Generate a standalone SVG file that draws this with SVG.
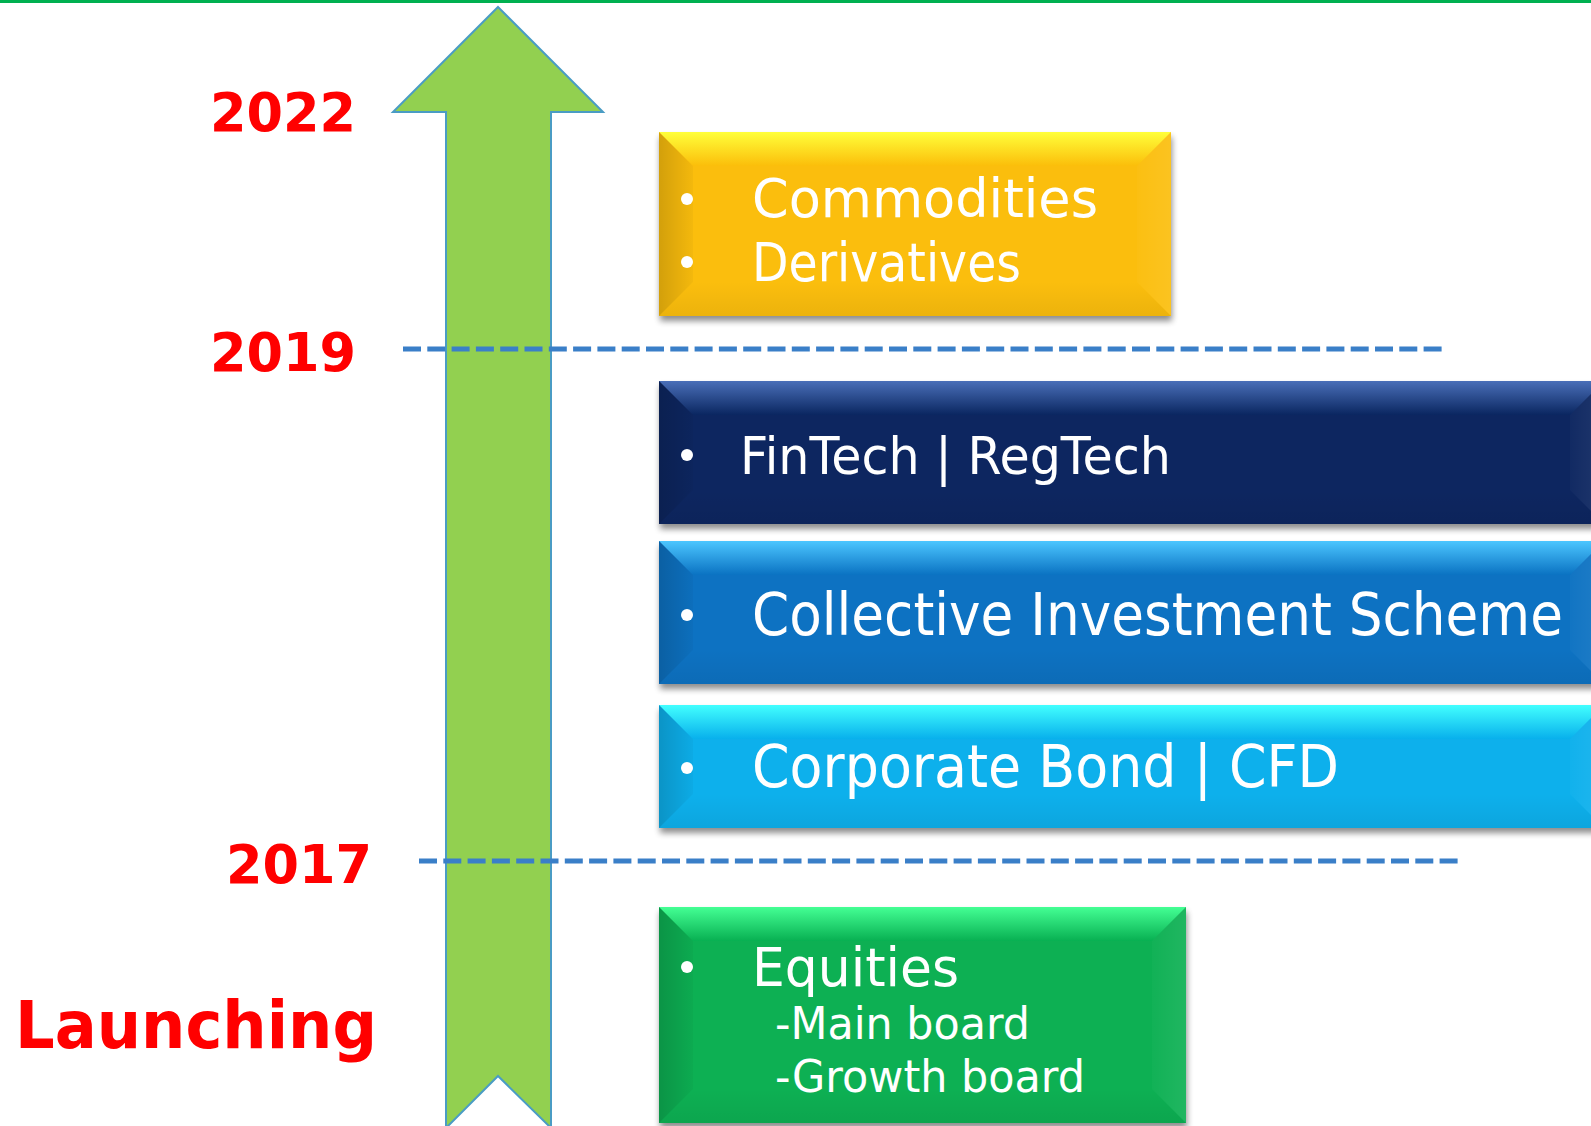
<svg xmlns="http://www.w3.org/2000/svg" width="1591" height="1126" viewBox="0 0 1591 1126">
  <defs>
    <style>
      .year { font-family: "DejaVu Sans", Verdana, sans-serif; font-weight: bold; fill: #ff0000; }
      .item { font-family: "DejaVu Sans", Verdana, sans-serif; fill: #ffffff; }
      .bullet { fill: #ffffff; }
      .sep { stroke: #3a7fc8; stroke-width: 5; stroke-dasharray: 18 6.3; fill: none; }
      .bevel-left { fill: url(#shadeLeft); }
      .bevel-right { fill: url(#shadeRight); }
      .bevel-bottom { fill: url(#shadeBottom); }
    </style>
    <filter id="drop" x="-5%" y="-10%" width="110%" height="130%">
      <feGaussianBlur in="SourceAlpha" stdDeviation="3"/>
      <feOffset dx="1" dy="5" result="b"/>
      <feComponentTransfer><feFuncA type="linear" slope="0.45"/></feComponentTransfer>
      <feMerge><feMergeNode/><feMergeNode in="SourceGraphic"/></feMerge>
    </filter>
    <!-- shared bevel shading -->
    <linearGradient id="shadeLeft" x1="0" y1="0" x2="1" y2="0">
      <stop offset="0" stop-color="#000" stop-opacity="0.16"/>
      <stop offset="1" stop-color="#000" stop-opacity="0.03"/>
    </linearGradient>
    <linearGradient id="shadeRight" x1="0" y1="0" x2="1" y2="0">
      <stop offset="0" stop-color="#fff" stop-opacity="0.02"/>
      <stop offset="1" stop-color="#fff" stop-opacity="0.08"/>
    </linearGradient>
    <linearGradient id="shadeBottom" x1="0" y1="0" x2="0" y2="1">
      <stop offset="0" stop-color="#000" stop-opacity="0"/>
      <stop offset="1" stop-color="#000" stop-opacity="0.06"/>
    </linearGradient>
    <!-- per-colour top highlights -->
    <linearGradient id="topYellow" x1="0" y1="0" x2="0" y2="1">
      <stop offset="0" stop-color="#ffff3a"/>
      <stop offset="1" stop-color="#fbbe0a"/>
    </linearGradient>
    <linearGradient id="topNavy" x1="0" y1="0" x2="0" y2="1">
      <stop offset="0" stop-color="#4a6fb8"/>
      <stop offset="1" stop-color="#0a2660"/>
    </linearGradient>
    <linearGradient id="topBlue" x1="0" y1="0" x2="0" y2="1">
      <stop offset="0" stop-color="#4cc6ff"/>
      <stop offset="1" stop-color="#0a72c2"/>
    </linearGradient>
    <linearGradient id="topCyan" x1="0" y1="0" x2="0" y2="1">
      <stop offset="0" stop-color="#42ffff"/>
      <stop offset="1" stop-color="#08b0ec"/>
    </linearGradient>
    <linearGradient id="topGreen" x1="0" y1="0" x2="0" y2="1">
      <stop offset="0" stop-color="#44ff94"/>
      <stop offset="1" stop-color="#08b052"/>
    </linearGradient>
  </defs>

  <rect width="1591" height="1126" fill="#ffffff"/>
  <!-- header rule -->
  <rect x="0" y="0" width="1591" height="3" fill="#00b050"/>

  <!-- timeline arrow -->
  <g id="timeline-arrow">
    <path d="M498,7 L603,112 L551,112 L551,1128 L498,1076 L446,1128 L446,112 L393,112 Z" fill="#92d050" stroke="#4a9cc4" stroke-width="2" stroke-linejoin="miter"/>
  </g>

  <!-- year labels -->
  <g id="labels">
    <text class="year" x="210" y="131" font-size="54" textLength="146" lengthAdjust="spacingAndGlyphs">2022</text>
    <text class="year" x="210" y="371" font-size="54" textLength="146" lengthAdjust="spacingAndGlyphs">2019</text>
    <text class="year" x="226" y="883" font-size="54" textLength="146" lengthAdjust="spacingAndGlyphs">2017</text>
    <text class="year" x="15" y="1048" font-size="65" textLength="362" lengthAdjust="spacingAndGlyphs">Launching</text>
  </g>

  <!-- period separators -->
  <g id="connectors">
    <line class="sep" x1="403" y1="349" x2="1443" y2="349"/>
    <line class="sep" x1="419" y1="861" x2="1459" y2="861"/>
  </g>

  <!-- 2019-2022 -->
  <g id="node-commodities">
    <rect x="659" y="132" width="512" height="184" fill="#fbbe0a" filter="url(#drop)"/>
    <polygon points="659,132 1171,132 1137,166 693,166" fill="url(#topYellow)"/>
    <polygon class="bevel-left" points="659,132 693,166 693,282 659,316"/>
    <polygon class="bevel-right" points="1171,132 1137,166 1137,282 1171,316"/>
    <polygon class="bevel-bottom" points="659,316 693,282 1137,282 1171,316"/>
    <circle class="bullet" cx="687" cy="199" r="6"/>
    <circle class="bullet" cx="687" cy="262" r="6"/>
    <text class="item" x="752" y="217" font-size="53" textLength="346" lengthAdjust="spacingAndGlyphs">Commodities</text>
    <text class="item" x="752" y="281" font-size="53" textLength="269" lengthAdjust="spacingAndGlyphs">Derivatives</text>
  </g>

  <!-- 2017-2019 -->
  <g id="node-fintech">
    <rect x="659" y="381" width="945" height="143" fill="#0a2660" filter="url(#drop)"/>
    <polygon points="659,381 1604,381 1570,415 693,415" fill="url(#topNavy)"/>
    <polygon class="bevel-left" points="659,381 693,415 693,490 659,524"/>
    <polygon class="bevel-right" points="1604,381 1570,415 1570,490 1604,524"/>
    <polygon class="bevel-bottom" points="659,524 693,490 1570,490 1604,524"/>
    <circle class="bullet" cx="687" cy="455" r="6"/>
    <text class="item" x="740" y="474" font-size="51" textLength="431" lengthAdjust="spacingAndGlyphs">FinTech | RegTech</text>
  </g>

  <g id="node-cis">
    <rect x="659" y="541" width="945" height="143" fill="#0a72c2" filter="url(#drop)"/>
    <polygon points="659,541 1604,541 1570,575 693,575" fill="url(#topBlue)"/>
    <polygon class="bevel-left" points="659,541 693,575 693,650 659,684"/>
    <polygon class="bevel-right" points="1604,541 1570,575 1570,650 1604,684"/>
    <polygon class="bevel-bottom" points="659,684 693,650 1570,650 1604,684"/>
    <circle class="bullet" cx="687" cy="615" r="6"/>
    <text class="item" x="752" y="635" font-size="58" textLength="811" lengthAdjust="spacingAndGlyphs">Collective Investment Scheme</text>
  </g>

  <g id="node-bond-cfd">
    <rect x="659" y="705" width="945" height="123" fill="#08b0ec" filter="url(#drop)"/>
    <polygon points="659,705 1604,705 1570,739 693,739" fill="url(#topCyan)"/>
    <polygon class="bevel-left" points="659,705 693,739 693,794 659,828"/>
    <polygon class="bevel-right" points="1604,705 1570,739 1570,794 1604,828"/>
    <polygon class="bevel-bottom" points="659,828 693,794 1570,794 1604,828"/>
    <circle class="bullet" cx="687" cy="768" r="6"/>
    <text class="item" x="752" y="787" font-size="58" textLength="587" lengthAdjust="spacingAndGlyphs">Corporate Bond | CFD</text>
  </g>

  <!-- launch -->
  <g id="node-equities">
    <rect x="659" y="907" width="527" height="216" fill="#08b052" filter="url(#drop)"/>
    <polygon points="659,907 1186,907 1152,941 693,941" fill="url(#topGreen)"/>
    <polygon class="bevel-left" points="659,907 693,941 693,1089 659,1123"/>
    <polygon class="bevel-right" points="1186,907 1152,941 1152,1089 1186,1123"/>
    <polygon class="bevel-bottom" points="659,1123 693,1089 1152,1089 1186,1123"/>
    <circle class="bullet" cx="687" cy="967" r="6"/>
    <text class="item" x="752" y="986" font-size="53" textLength="207" lengthAdjust="spacingAndGlyphs">Equities</text>
    <text class="item" x="775" y="1039" font-size="44" textLength="255" lengthAdjust="spacingAndGlyphs">-Main board</text>
    <text class="item" x="775" y="1092" font-size="44" textLength="310" lengthAdjust="spacingAndGlyphs">-Growth board</text>
  </g>
</svg>
